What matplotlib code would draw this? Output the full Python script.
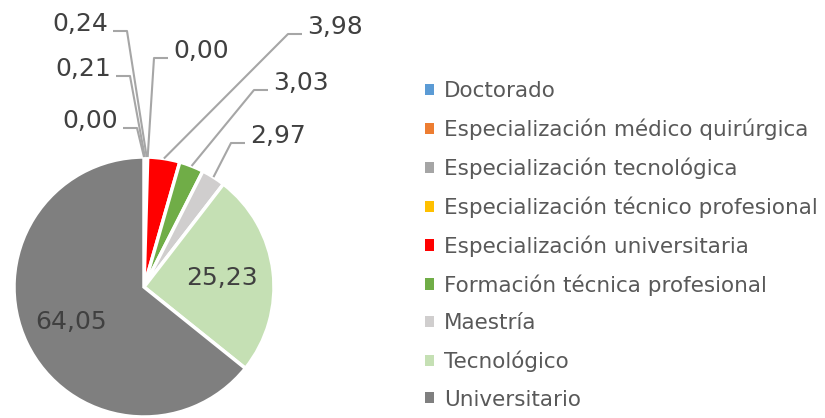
import matplotlib
matplotlib.use("Agg")
import matplotlib.pyplot as plt
from matplotlib.patches import Patch
import numpy as np

plt.rcParams['font.family'] = ['DejaVu Sans']

categories = [
    'Doctorado',
    'Especialización médico quirúrgica',
    'Especialización tecnológica',
    'Especialización técnico profesional',
    'Especialización universitaria',
    'Formación técnica profesional',
    'Maestría',
    'Tecnológico',
    'Universitario',
]
values = [0.00, 0.21, 0.24, 0.00, 3.98, 3.03, 2.97, 25.23, 64.05]
value_labels = ['0,00', '0,21', '0,24', '0,00', '3,98', '3,03', '2,97', '25,23', '64,05']
colours = ['#5B9BD5', '#ED7D31', '#A5A5A5', '#FFC000', '#FF0000',
           '#70AD47', '#D0CECE', '#C5E0B4', '#7F7F7F']

# outside labels: text edge position (pixels, y from top) and side; None -> inside
label_pos = [(118, 128, 'right'), (111, 76, 'right'), (108, 31, 'right'),
             (173, 58, 'left'), (307, 34, 'left'), (273, 90, 'left'),
             (250, 143, 'left'), None, None]
inner_r = [None] * 7 + [0.6, 0.62]

W, H = 825, 418
fig = plt.figure(figsize=(W / 100, H / 100), dpi=100)
ax = fig.add_axes([0, 0, 1, 1])

cx, cy, r = 144, H - 287, 130
wedges, _ = ax.pie(values, colors=colours, startangle=90, counterclock=False,
                   center=(cx, cy), radius=r, frame=True,
                   wedgeprops=dict(edgecolor='white', linewidth=2.5))
ax.set_xlim(0, W)
ax.set_ylim(0, H)
ax.set_aspect('equal')
ax.axis('off')

txt_col = '#404040'
line_col = '#A6A6A6'
for w, lab, pos, ir in zip(wedges, value_labels, label_pos, inner_r):
    mid = np.deg2rad((w.theta1 + w.theta2) / 2)
    if pos is None:
        rr = ir * r
        ax.text(cx + rr * np.cos(mid), cy + rr * np.sin(mid), lab,
                ha='center', va='center', fontsize=18, color=txt_col)
        continue
    tx, ty, side = pos[0], H - pos[1], pos[2]
    ax.text(tx, ty, lab, ha=side, va='baseline', fontsize=18, color=txt_col)
    ex, ey = cx + r * np.cos(mid), cy + r * np.sin(mid)
    sgn = 1 if side == 'right' else -1
    hx0, hx1 = tx + sgn * 5, tx + sgn * 19
    ax.plot([hx0, hx1, ex], [ty, ty, ey], color=line_col, lw=1.5,
            solid_capstyle='butt')

handles = [Patch(facecolor=c, edgecolor='none') for c in colours]
leg = ax.legend(handles, categories, loc='upper left',
                bbox_to_anchor=(425 / W, 1 - 81 / H), frameon=False,
                borderaxespad=0, borderpad=0,
                fontsize=15.5, labelspacing=0.81, handlelength=0.42,
                handleheight=0.42, handletextpad=0.48)
for t in leg.get_texts():
    t.set_color('#595959')

fig.savefig('out.png', dpi=100)
